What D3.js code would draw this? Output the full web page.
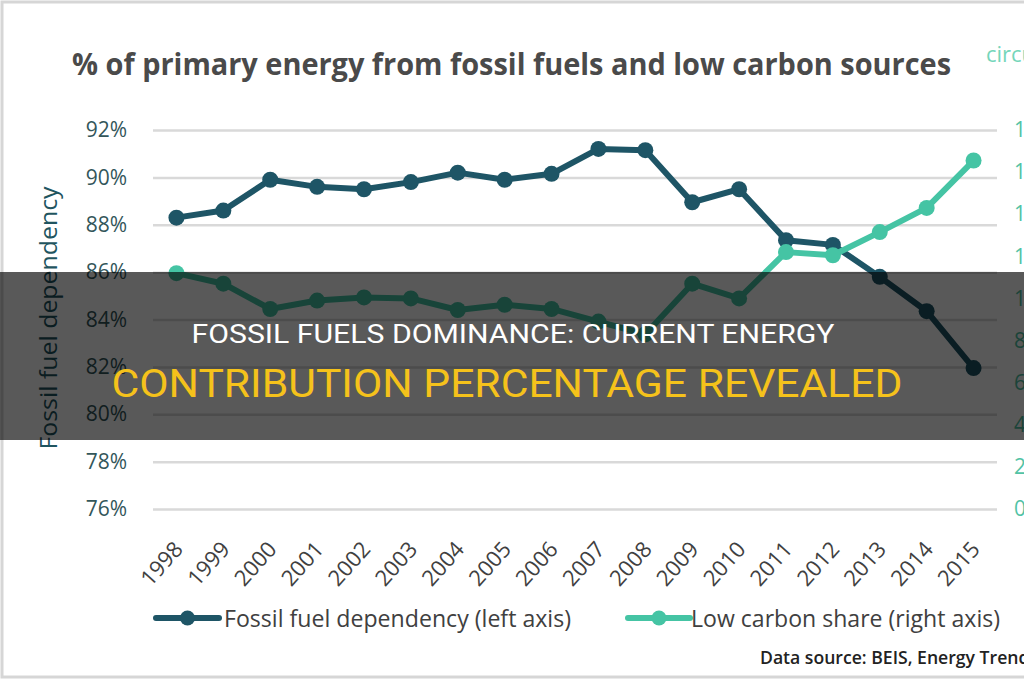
<!DOCTYPE html>
<html><head><meta charset="utf-8">
<script src="https://cdn.jsdelivr.net/npm/d3@7"></script>
<style>body{margin:0;background:#fff;overflow:hidden}svg{display:block}</style>
</head><body>
<svg id="c" width="1024" height="680"></svg>
<script>
const years = [1998,1999,2000,2001,2002,2003,2004,2005,2006,2007,2008,2009,2010,2011,2012,2013,2014,2015];
const fossilDependency = [88.3,88.6,89.9,89.6,89.5,89.8,90.2,89.9,90.15,91.2,91.15,88.95,89.5,87.35,87.15,85.8,84.35,81.95];
const lowCarbonShare = [11.2,10.7,9.5,9.9,10.05,10.0,9.45,9.7,9.5,8.9,8.3,10.7,10.0,12.2,12.05,13.15,14.3,16.55];
const leftTicks = [76,78,80,82,84,86,88,90,92];
const rightTicks = [0,2,4,6,8,10,12,14,16,18];
const chartTitle = "% of primary energy from fossil fuels and low carbon sources";
const leftAxisTitle = "Fossil fuel dependency";
const legendLabels = ["Fossil fuel dependency (left axis)", "Low carbon share (right axis)"];
const sourceNote = "Data source: BEIS, Energy Trends";
const bannerLines = ["FOSSIL FUELS DOMINANCE: CURRENT ENERGY", "CONTRIBUTION PERCENTAGE REVEALED"];

const C_DARK = "#1e5566", C_TEAL = "#45c4a4";
const svg = d3.select("#c");
const F = "'Open Sans', 'Noto Sans', sans-serif";

svg.append("rect").attr("x",2).attr("y",2).attr("width",1060).attr("height",675)
  .attr("fill","#fff").attr("stroke","#d6d6d6").attr("stroke-width",3);

const L = 153, R = 997, T = 130, B = 509;
const x = d3.scaleBand().domain(years).range([L,R]).padding(0);
const cx = d => x(d) + x.bandwidth()/2;
const yL = d3.scaleLinear().domain([76,92]).range([B,T]);
const yR = d3.scaleLinear().domain([0,18]).range([B,T]);

// title
svg.append("text").attr("x",72).attr("y",75).text(chartTitle)
  .attr("font-family",F).attr("font-weight","bold").attr("font-size",31)
  .attr("fill","#4a4a4a").attr("textLength",879).attr("lengthAdjust","spacingAndGlyphs");
svg.append("text").attr("x",986).attr("y",62).text("circular ecology")
  .attr("font-family",F).attr("font-size",22).attr("fill","#74d6ba");

// left axis with gridlines
const gl = svg.append("g").attr("transform",`translate(${L},0)`)
  .call(d3.axisLeft(yL).tickValues(leftTicks).tickSize(-(R-L)).tickPadding(26).tickFormat(d=>d+"%"));
gl.select(".domain").remove();
gl.selectAll(".tick line").attr("stroke","#d9d9d9").attr("stroke-width",2.5);
gl.selectAll(".tick text").attr("font-family",F).attr("font-size",21).attr("fill","#33565a");

// right axis
const gr = svg.append("g").attr("transform",`translate(${R},0)`)
  .call(d3.axisRight(yR).tickValues(rightTicks).tickSize(0).tickPadding(17).tickFormat(d=>d+"%"));
gr.select(".domain").remove();
gr.selectAll(".tick text").attr("font-family",F).attr("font-size",21).attr("fill","#52c3a5");

// x axis labels
const gx = svg.append("g").attr("transform",`translate(0,${B})`)
  .call(d3.axisBottom(x).tickSize(0));
gx.select(".domain").remove();
gx.selectAll(".tick text").attr("font-family",F).attr("font-size",22).attr("fill","#404040")
  .attr("text-anchor","end").attr("x",0).attr("y",0).attr("dy","0.35em")
  .attr("transform","translate(2,36) rotate(-48)");

// y title
svg.append("text").attr("transform","translate(57,318) rotate(-90)").attr("text-anchor","middle")
  .text(leftAxisTitle).attr("font-family",F).attr("font-size",24).attr("fill","#1f5560")
  .attr("textLength",263).attr("lengthAdjust","spacingAndGlyphs");

// lines
function drawSeries(vals, yS, color){
  const line = d3.line().x((d,i)=>cx(years[i])).y(d=>yS(d));
  svg.append("path").datum(vals).attr("d",line).attr("fill","none")
    .attr("stroke",color).attr("stroke-width",6).attr("stroke-linejoin","round");
  svg.append("g").selectAll("circle").data(vals).join("circle")
    .attr("cx",(d,i)=>cx(years[i])).attr("cy",d=>yS(d)).attr("r",8).attr("fill",color);
}
drawSeries(fossilDependency, yL, C_DARK);
drawSeries(lowCarbonShare, yR, C_TEAL);

// legend
const leg = [
  {x1:156,x2:219,tx:224,tl:347,c:C_DARK,label:legendLabels[0]},
  {x1:628,x2:690,tx:691,tl:309,c:C_TEAL,label:legendLabels[1]}
];
const lg = svg.append("g").selectAll("g").data(leg).join("g");
lg.append("line").attr("x1",d=>d.x1).attr("x2",d=>d.x2).attr("y1",618).attr("y2",618)
  .attr("stroke",d=>d.c).attr("stroke-width",6).attr("stroke-linecap","round");
lg.append("circle").attr("cx",d=>(d.x1+d.x2)/2).attr("cy",618).attr("r",7.5).attr("fill",d=>d.c);
lg.append("text").attr("x",d=>d.tx).attr("y",627).text(d=>d.label)
  .attr("font-family",F).attr("font-size",24).attr("fill","#404040")
  .attr("textLength",d=>d.tl).attr("lengthAdjust","spacingAndGlyphs");

svg.append("text").attr("x",760).attr("y",664).text(sourceNote)
  .attr("font-family",F).attr("font-weight","600").attr("font-size",18).attr("fill","#222")
  .attr("textLength",278).attr("lengthAdjust","spacingAndGlyphs");

// banner overlay
svg.append("rect").attr("x",0).attr("y",272).attr("width",1024).attr("height",168)
  .attr("fill","rgba(0,0,0,0.65)");
svg.append("text").attr("x",513).attr("y",343).attr("text-anchor","middle").text(bannerLines[0])
  .attr("font-family","Roboto, sans-serif").attr("font-size",25).attr("fill","#ffffff")
  .attr("textLength",643).attr("lengthAdjust","spacingAndGlyphs");
svg.append("text").attr("x",507).attr("y",397).attr("text-anchor","middle").text(bannerLines[1])
  .attr("font-family","Roboto, sans-serif").attr("font-size",38).attr("fill","#f5c21b")
  .attr("textLength",791).attr("lengthAdjust","spacingAndGlyphs");
</script>
</body></html>
